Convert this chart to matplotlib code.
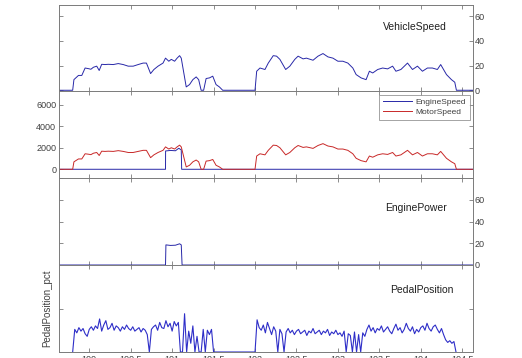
import numpy as np
import matplotlib.pyplot as plt

plt.rcParams['font.family'] = ['Liberation Sans', 'DejaVu Sans']

# distance axis (sampling points)
speed_dist = [99.635, 99.80, 99.815, 99.87, 99.91, 99.95, 99.99, 100.02, 100.05, 100.09,
              100.12, 100.15, 100.19, 100.23, 100.29, 100.35, 100.41, 100.47, 100.53, 100.59,
              100.65, 100.69, 100.74, 100.78, 100.83, 100.89, 100.92, 100.96, 100.99, 101.03,
              101.06, 101.09, 101.11, 101.17, 101.21, 101.25, 101.29, 101.32, 101.35, 101.38,
              101.41, 101.45, 101.49, 101.53, 101.57, 101.61, 102.00, 102.02, 102.06, 102.12,
              102.16, 102.22, 102.26, 102.30, 102.37, 102.42, 102.48, 102.52, 102.58, 102.62,
              102.70, 102.76, 102.82, 102.88, 102.94, 103.00, 103.06, 103.12, 103.18, 103.22,
              103.28, 103.34, 103.38, 103.42, 103.48, 103.54, 103.60, 103.66, 103.70, 103.76,
              103.84, 103.90, 103.96, 104.02, 104.08, 104.14, 104.20, 104.24, 104.31, 104.37,
              104.41, 104.43, 104.63]

vehicle_speed = [0, 0, 8.6, 12, 12, 18, 17.5, 17, 18.6, 19.5,
                 16, 21, 20.8, 21, 20.8, 21.6, 20.8, 19.5, 19.5, 20.8,
                 22, 22, 13.5, 16.8, 19.5, 22, 26, 23.5, 25, 23.5,
                 26, 28, 26, 2.7, 4.6, 8.6, 10.8, 8.6, 0, 0,
                 9.5, 10, 11.4, 4.6, 2.7, 0, 0, 15.4, 18, 16.8,
                 22, 28, 27.6, 25, 16.8, 19.5, 25, 27.6, 25.4, 26,
                 24.3, 27.6, 29.7, 27, 26, 23.5, 23.5, 22, 18, 12.7,
                 10, 8.6, 15.4, 14, 16.8, 18, 17.3, 19.5, 15.4, 16.8,
                 22, 16.8, 19.5, 15.4, 18, 18, 16.8, 20.8, 12.7, 8.6,
                 6.5, 0, 0]

motor_speed = [0, 0, 690, 960, 960, 1440, 1400, 1360, 1490, 1560,
               1280, 1680, 1660, 1680, 1660, 1730, 1660, 1560, 1560, 1660,
               1760, 1760, 1080, 1340, 1560, 1760, 2080, 1880, 2000, 1880,
               2080, 2240, 2080, 220, 370, 690, 860, 690, 0, 0,
               760, 800, 910, 370, 220, 0, 0, 1230, 1440, 1340,
               1760, 2240, 2210, 2000, 1340, 1560, 2000, 2210, 2030, 2080,
               1940, 2210, 2380, 2160, 2080, 1880, 1880, 1760, 1440, 1020,
               800, 690, 1230, 1120, 1340, 1440, 1380, 1560, 1230, 1340,
               1760, 1340, 1560, 1230, 1440, 1440, 1340, 1660, 1020, 690,
               520, 0, 0]

engine_dist = [99.635, 100.92, 100.921, 100.98, 101.04, 101.08, 101.11, 101.115, 104.63]
engine_speed = [0, 0, 1700, 1750, 1720, 1950, 1800, 0, 0]

power_dist = [99.635, 100.92, 100.925, 100.98, 101.04, 101.09, 101.11, 101.12, 104.63]
engine_power = [0, 0, 18.5, 18.0, 18.2, 19.5, 18.5, 0, 0]

# pedal position sampled every 0.025 from 99.80
pedal_start = 99.80
pedal_step = 0.025
pedal_pct = [0, 26, 22, 28, 24, 27, 21, 18, 26, 29,
             25, 30, 27, 38, 24, 31, 36, 26, 28, 33,
             25, 30, 28, 24, 29, 26, 31, 27, 25, 29,
             24, 26, 28, 23, 27, 25, 20, 0, 26, 29,
             31, 25, 34, 28, 27, 36, 29, 33, 24, 35,
             30, 34,
             0, 0, 44, 0, 24, 10, 30, 0, 18, 0, 0, 26, 0, 25, 20, 26, 0,
             0, 0, 0, 0, 0, 0, 0, 0, 0, 0,
             0, 0, 0, 0, 0, 0, 0, 0, 0, 0,
             37, 28, 25, 31, 22, 34, 27, 20, 29, 24,
             0, 26, 21, 0, 23, 27, 22, 25, 20, 24,
             26, 21, 23, 25, 19, 24, 22, 27, 21, 23,
             25, 20, 24, 22, 26, 19, 23, 21, 25, 20,
             22, 18, 24, 0, 21, 19, 0, 23, 0, 20,
             0, 22, 18, 26, 31, 24, 28, 22, 27, 25,
             30, 23, 26, 29, 24, 21, 27, 32, 25, 28,
             22, 26, 33, 27, 24, 29, 21, 26, 23, 28,
             30, 25, 33, 27, 24, 29, 31, 26, 22, 27,
             20, 14, 11, 13, 10, 12, 0]
pedal_dist = pedal_start + pedal_step * np.arange(len(pedal_pct))

x_ticks = [100, 100.5, 101, 101.5, 102, 102.5, 103, 103.5, 104, 104.5]
x_labels = ['100', '100.5', '101', '101.5', '102', '102.5', '103', '103.5', '104', '104.5']

blue = '#2828a8'
pedal_blue = '#2e2ec8'
red = '#c82828'
spine_col = '#7a7a7a'
text_col = '#404040'

fig = plt.figure(figsize=(5.22, 3.58), dpi=100)
W, H = 522, 358
left, right = 59, 473
tops = [5, 91, 178, 265, 352]
axes = []
for i in range(4):
    t, b = tops[i], tops[i + 1]
    ax = fig.add_axes([left / W, (H - b) / H, (right - left) / W, (b - t) / H])
    axes.append(ax)

for ax in axes:
    ax.set_xlim(99.635, 104.63)
    ax.set_xticks(x_ticks)
    ax.tick_params(direction='in', length=3, width=0.6, colors=spine_col,
                   labelcolor=text_col, labelsize=6.5, top=True, right=True, pad=2)
    for s in ax.spines.values():
        s.set_color(spine_col)
        s.set_linewidth(0.7)

# panel 1: vehicle speed
ax1 = axes[0]
ax1.plot(speed_dist, vehicle_speed, color=blue, lw=0.7)
ax1.set_ylim(-0.6, 69)
ax1.set_yticks([0, 20, 40, 60])
ax1.yaxis.tick_right()
ax1.tick_params(axis='y', left=True, right=True, labelleft=False, labelright=True, pad=1)
ax1.tick_params(axis='x', labelbottom=False)
ax1.text(0.937, 0.748, 'VehicleSpeed', transform=ax1.transAxes, ha='right', va='center',
         fontsize=7.5, color='#202020')

# panel 2: engine / motor speed
ax2 = axes[1]
ax2.plot(engine_dist, engine_speed, color=blue, lw=0.7, label='EngineSpeed')
ax2.plot(speed_dist, motor_speed, color=red, lw=0.7, label='MotorSpeed')
ax2.set_ylim(-810, 7270)
ax2.set_yticks([0, 2000, 4000, 6000])
ax2.tick_params(axis='y', left=True, right=True, labelleft=True, labelright=False, pad=2)
ax2.tick_params(axis='x', labelbottom=False)
leg = ax2.legend(loc='upper right', fontsize=6, frameon=True, fancybox=False,
                 borderaxespad=0.4, handlelength=3.5, handletextpad=0.5,
                 borderpad=0.4, labelspacing=0.3, bbox_to_anchor=(1.0, 0.995))
leg.get_frame().set_edgecolor(spine_col)
leg.get_frame().set_linewidth(0.6)
for t in leg.get_texts():
    t.set_color(text_col)

# panel 3: engine power
ax3 = axes[2]
ax3.plot(power_dist, engine_power, color=blue, lw=0.7)
ax3.set_ylim(0, 80)
ax3.set_yticks([0, 20, 40, 60, 80])
ax3.set_yticklabels(['0', '20', '40', '60', ''])
ax3.yaxis.tick_right()
ax3.tick_params(axis='y', left=True, right=True, labelleft=False, labelright=True, pad=1)
ax3.tick_params(axis='x', labelbottom=False)
ax3.text(0.937, 0.655, 'EnginePower', transform=ax3.transAxes, ha='right', va='center',
         fontsize=7.5, color='#202020')

# panel 4: pedal position
ax4 = axes[3]
ax4.plot(pedal_dist, pedal_pct, color=pedal_blue, lw=0.8)
ax4.set_ylim(0, 100)
ax4.set_yticks([50])
ax4.set_yticklabels([])
ax4.tick_params(axis='y', left=True, right=True)
ax4.set_xticklabels(x_labels)
ax4.set_ylabel('PedalPosition_pct', fontsize=7, color=text_col, labelpad=3)
ax4.text(0.952, 0.713, 'PedalPosition', transform=ax4.transAxes, ha='right', va='center',
         fontsize=7.5, color='#202020')

fig.savefig('out.png', dpi=100)
